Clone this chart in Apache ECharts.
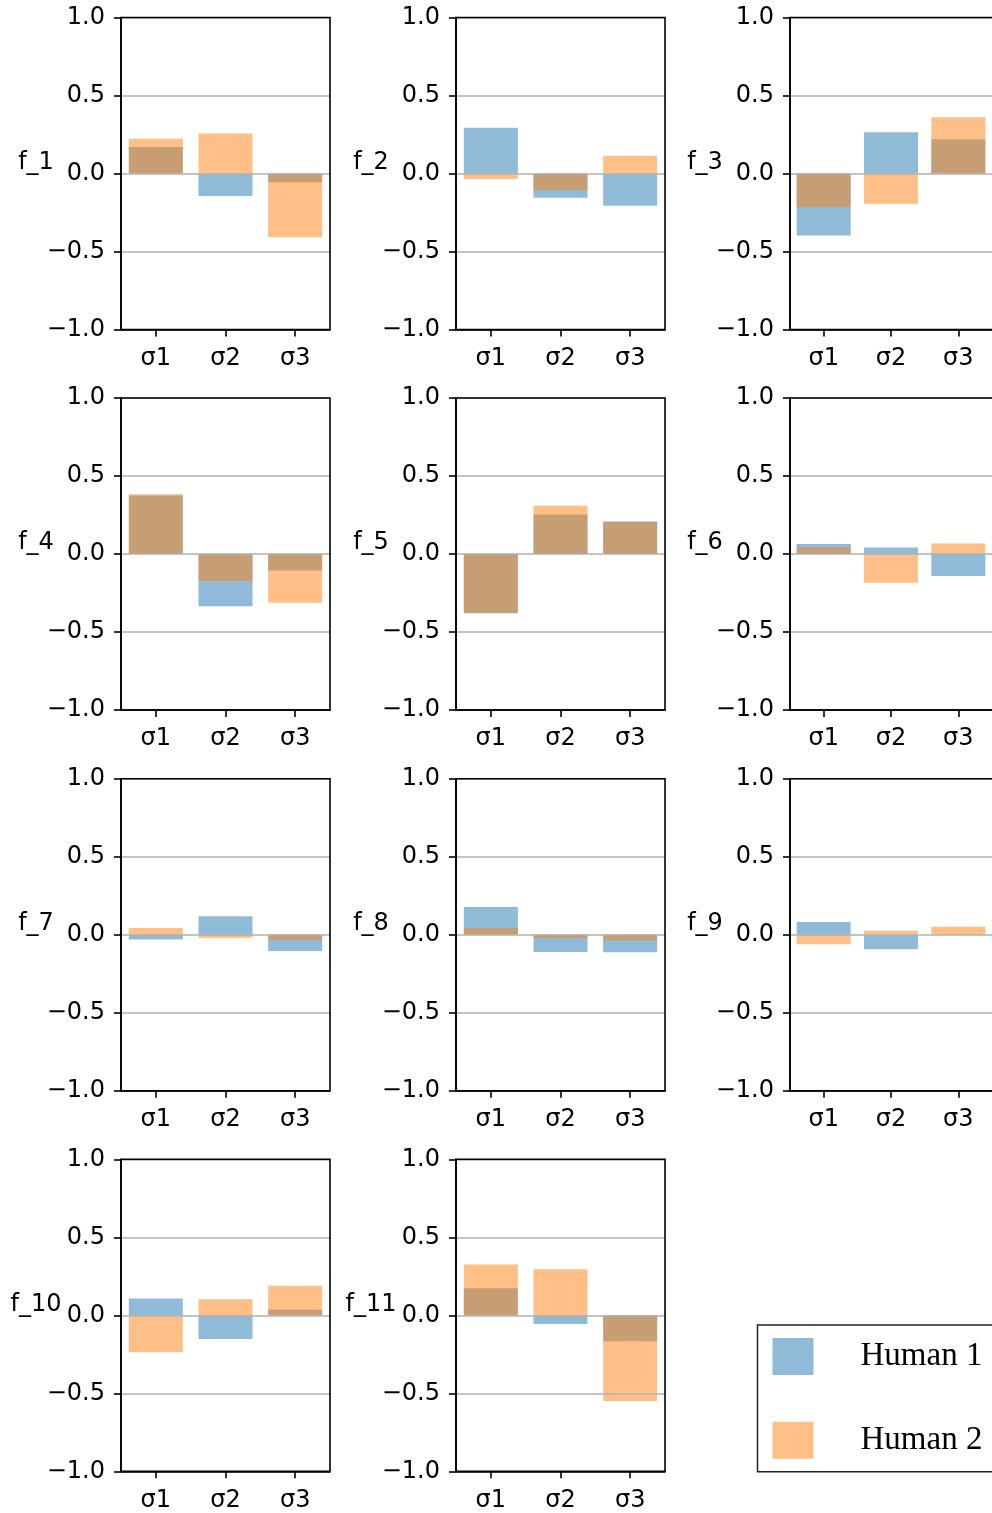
<!DOCTYPE html>
<html>
<head>
<meta charset="utf-8">
<script src="https://cdn.jsdelivr.net/npm/echarts@6/dist/echarts.min.js"></script>
<style>
  html, body { margin: 0; padding: 0; background: #ffffff; }
  #chart { width: 992px; height: 1513px; }
</style>
</head>
<body>
<div id="chart"></div>
<script>
// Feature panels, one per f_i
const featureNames = ['f_1', 'f_2', 'f_3', 'f_4', 'f_5', 'f_6', 'f_7', 'f_8', 'f_9', 'f_10', 'f_11'];
const sigmaLabels = ['σ1', 'σ2', 'σ3'];
const seriesNames = ['Human 1', 'Human 2'];
const yTicks = [-1.0, -0.5, 0.0, 0.5, 1.0];

// Values per feature for σ1, σ2, σ3
const human1Values = [
  [0.170, -0.145, -0.056],
  [0.293, -0.156, -0.207],
  [-0.397, 0.265, 0.220],
  [0.375, -0.335, -0.105],
  [-0.380, 0.254, 0.208],
  [0.064, 0.041, -0.141],
  [-0.030, 0.118, -0.105],
  [0.178, -0.111, -0.113],
  [0.081, -0.094, 0.000],
  [0.107, -0.152, 0.036],
  [0.173, -0.056, -0.167]
];
const human2Values = [
  [0.222, 0.256, -0.408],
  [-0.036, -0.107, 0.113],
  [-0.214, -0.194, 0.361],
  [0.383, -0.171, -0.312],
  [-0.376, 0.310, 0.206],
  [0.043, -0.184, 0.068],
  [0.043, -0.021, -0.034],
  [0.043, -0.021, -0.036],
  [-0.062, 0.026, 0.051],
  [-0.237, 0.103, 0.190],
  [0.325, 0.295, -0.550]
];

const BLUE = 'rgba(31,119,180,0.5)';
const ORANGE = 'rgba(255,127,14,0.5)';
const TICK_FONT = 'DejaVu Sans';
const TICK_SIZE = 24;

const colLeft = [121, 456, 790];
const rowTop = [17.5, 398, 778.7, 1159.3];
const panelW = 209;
const panelH = 312;

const fmt = v => (v < 0 ? '\u2212' : '') + Math.abs(v).toFixed(1);

const grids = [], xAxes = [], yAxes = [], series = [], graphics = [];

featureNames.forEach((name, i) => {
  const col = i % 3, row = Math.floor(i / 3);
  const left = colLeft[col], top = rowTop[row];
  grids.push({ left: left, top: top, width: panelW, height: panelH, show: false });
  xAxes.push({
    type: 'category', gridIndex: i, data: sigmaLabels,
    boundaryGap: true,
    axisLine: { show: true, onZero: false, lineStyle: { color: '#000', width: 1.6 } },
    axisTick: { show: true, alignWithLabel: true, inside: false, length: 7, lineStyle: { color: '#000', width: 1.6 } },
    axisLabel: { color: '#000', fontFamily: TICK_FONT, fontSize: TICK_SIZE, margin: 17 },
    splitLine: { show: false },
    z: 3
  });
  yAxes.push({
    type: 'value', gridIndex: i, min: yTicks[0], max: yTicks[yTicks.length - 1], interval: 0.5,
    axisLine: { show: true, onZero: false, lineStyle: { color: '#000', width: 1.6 } },
    axisTick: { show: true, inside: false, length: 7, lineStyle: { color: '#000', width: 1.6 } },
    axisLabel: { color: '#000', fontFamily: TICK_FONT, fontSize: TICK_SIZE, margin: 16, formatter: fmt, padding: [4, 0, 0, 0] },
    splitLine: { show: true, lineStyle: { color: '#b0b0b0', width: 1.6 } },
    z: 3
  });
  series.push({
    name: seriesNames[0], type: 'bar', xAxisIndex: i, yAxisIndex: i,
    data: human1Values[i], barWidth: 54, barGap: '-100%',
    itemStyle: { color: BLUE }, z: 2, animation: false
  });
  series.push({
    name: seriesNames[1], type: 'bar', xAxisIndex: i, yAxisIndex: i,
    data: human2Values[i], barWidth: 54, barGap: '-100%',
    itemStyle: { color: ORANGE }, z: 2, animation: false
  });
  // panel frame drawn over the grid lines
  graphics.push({
    type: 'rect', z: 10,
    shape: { x: left, y: top, width: panelW, height: panelH },
    style: { fill: null, stroke: '#000', lineWidth: 1.6 },
    silent: true
  });
  // horizontal panel label to the left of the tick labels
  graphics.push({
    type: 'text', z: 10,
    x: left - 85, y: top + panelH / 2 + 1,
    style: {
      text: name, fill: '#000', font: TICK_SIZE + 'px "DejaVu Sans"',
      textAlign: 'center', textVerticalAlign: 'bottom'
    }
  });
});

const chart = echarts.init(document.getElementById('chart'), null, { renderer: 'canvas' });
chart.setOption({
  animation: false,
  backgroundColor: '#ffffff',
  grid: grids,
  xAxis: xAxes,
  yAxis: yAxes,
  series: series,
  legend: {
    data: seriesNames,
    orient: 'vertical',
    left: 757.5, top: 1325,
    padding: [13, 30, 13, 15],
    itemWidth: 41, itemHeight: 37, itemGap: 46.7,
    icon: 'rect',
    borderColor: '#222', borderWidth: 1.5, borderRadius: 0,
    backgroundColor: '#fff',
    selectedMode: false,
    textStyle: { fontFamily: 'Liberation Serif', fontSize: 33, color: '#000', padding: [0, 0, 0, 42], lineHeight: 37 }
  },
  graphic: graphics
});
</script>
</body>
</html>
